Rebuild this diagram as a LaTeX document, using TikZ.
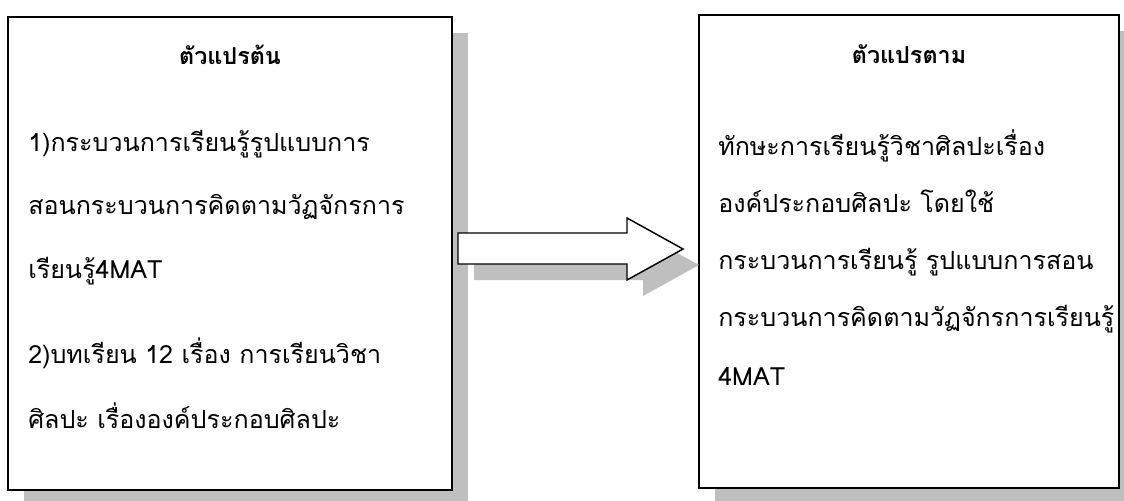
\documentclass[tikz,border=0pt]{standalone}
\usepackage{fontspec}
\newfontfamily\thai[Script=Thai]{Loma}
\begin{document}
\begin{tikzpicture}[x=0.75pt,y=-0.75pt,
  boxstyle/.style={draw=black,line width=1.1pt,fill=white},
  shadowstyle/.style={fill=black!25,draw=none},
  txt/.style={inner sep=0pt,anchor=base west,font=\thai\fontsize{18.8}{22}\selectfont},
  ttl/.style={inner sep=0pt,anchor=base,font=\thai\bfseries\fontsize{17.5}{20}\selectfont}]
\useasboundingbox (0,0) rectangle (1124,500);
\clip (0,0) rectangle (1124,500);
% left box
\fill[shadowstyle] (24,33) rectangle (468,506);
\draw[boxstyle] (8,17) rectangle (452,490);
% right box
\fill[shadowstyle] (715,31) rectangle (1135,504);
\draw[boxstyle] (699,15) rectangle (1119,488);
% arrow
\fill[shadowstyle] (474,249) -- (643,249) -- (643,234) -- (699,265) -- (643,296) -- (643,280) -- (474,280) -- cycle;
\draw[boxstyle] (458,233) -- (627,233) -- (627,218) -- (683,249) -- (627,280) -- (627,264) -- (458,264) -- cycle;
% texts
\node[ttl] (lt) at (230,64) {ตัวแปรต้น};
\node[txt] (l1) at (28,151) {1)กระบวนการเรียนรู้รูปแบบการ};
\node[txt] (l2) at (28,214) {สอนกระบวนการคิดตามวัฏจักรการ};
\node[txt] (l3) at (28,278) {เรียนรู้4MAT};
\node[txt] (l4) at (28,363) {2)บทเรียน 12 เรื่อง การเรียนวิชา};
\node[txt] (l5) at (28,428) {ศิลปะ เรื่ององค์ประกอบศิลปะ};
\node[ttl] (rt) at (909,63) {ตัวแปรตาม};
\node[txt] (r1) at (718,155) {ทักษะการเรียนรู้วิชาศิลปะเรื่อง};
\node[txt] (r2) at (718,212) {องค์ประกอบศิลปะ โดยใช้};
\node[txt] (r3) at (718,269) {กระบวนการเรียนรู้ รูปแบบการสอน};
\node[txt] (r4) at (718,326) {กระบวนการคิดตามวัฏจักรการเรียนรู้};
\node[txt] (r5) at (718,385) {4MAT};
\end{tikzpicture}
\end{document}
